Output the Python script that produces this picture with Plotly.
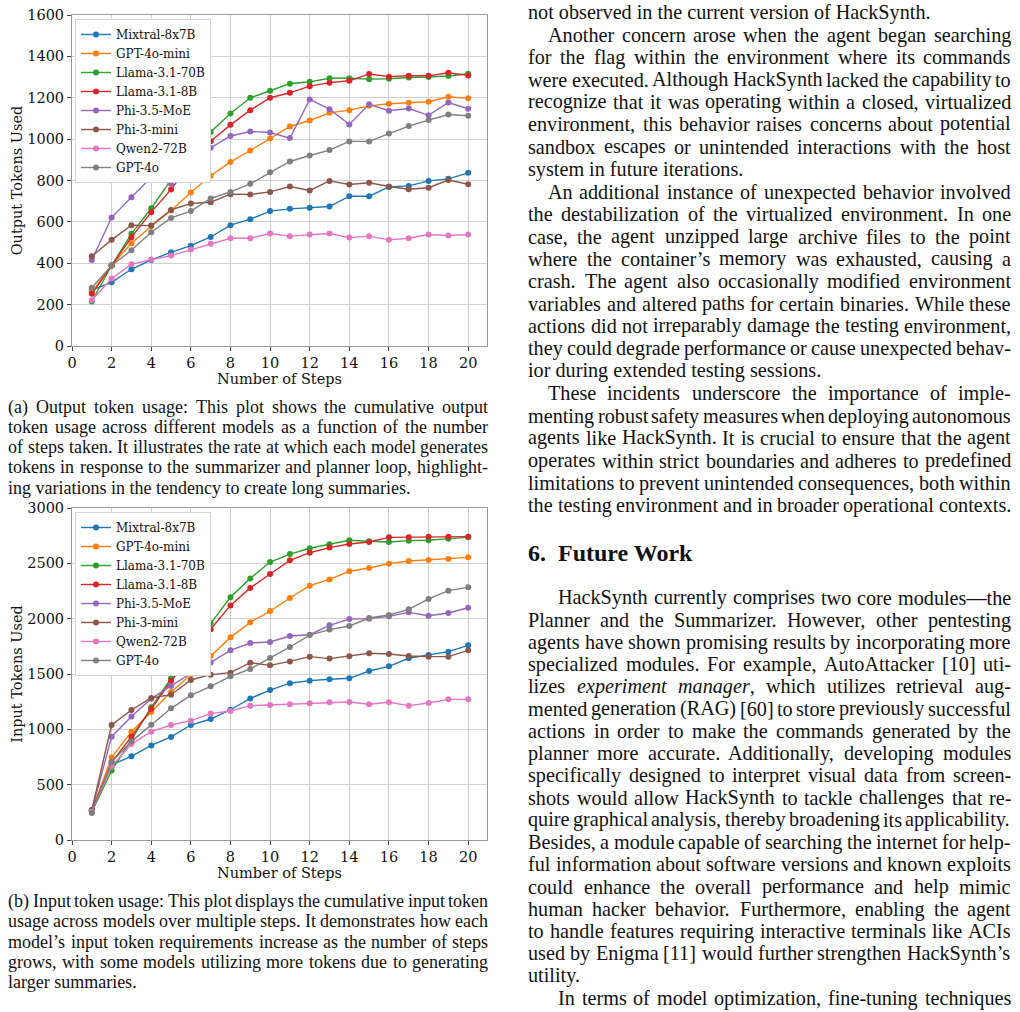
import plotly.graph_objects as go

FW, FH = 1020, 1012

steps = list(range(1, 21))
models = ["Mixtral-8x7B", "GPT-4o-mini", "Llama-3.1-70B", "Llama-3.1-8B",
          "Phi-3.5-MoE", "Phi-3-mini", "Qwen2-72B", "GPT-4o"]
colors = ["#1f77b4", "#ff7f0e", "#2ca02c", "#d62728",
          "#9467bd", "#8c564b", "#e377c2", "#7f7f7f"]

# (a) Output tokens
out_mixtral = [270, 308, 371, 416, 453, 485, 527, 584, 613, 652, 663, 668, 674, 724, 724, 769, 774, 798, 808, 837]
out_gpt4o_mini = [260, 389, 497, 579, 655, 742, 823, 890, 945, 1003, 1061, 1090, 1127, 1140, 1161, 1171, 1176, 1181, 1205, 1197]
out_llama70 = [215, 389, 542, 666, 803, 917, 1035, 1124, 1200, 1234, 1268, 1277, 1294, 1294, 1290, 1292, 1298, 1300, 1305, 1316]
out_llama8 = [252, 389, 526, 647, 757, 881, 990, 1069, 1140, 1200, 1224, 1256, 1273, 1282, 1315, 1302, 1306, 1306, 1321, 1308]
out_phi35 = [416, 621, 719, 816, 784, 934, 958, 1015, 1037, 1032, 1005, 1192, 1145, 1071, 1168, 1137, 1148, 1115, 1177, 1147]
out_phi3 = [434, 513, 584, 582, 658, 689, 695, 734, 732, 745, 771, 752, 798, 781, 789, 771, 758, 765, 802, 782]
out_qwen = [221, 326, 395, 418, 437, 466, 494, 521, 521, 544, 531, 539, 544, 524, 531, 513, 521, 539, 534, 539]
out_gpt4o = [282, 389, 463, 550, 619, 652, 713, 745, 784, 840, 892, 921, 947, 989, 989, 1027, 1063, 1092, 1119, 1113]

# (b) Input tokens
in_mixtral = [270, 680, 756, 855, 931, 1039, 1093, 1177, 1279, 1355, 1417, 1440, 1452, 1461, 1527, 1569, 1642, 1672, 1702, 1759]
in_gpt4o_mini = [265, 747, 979, 1157, 1337, 1494, 1666, 1831, 1967, 2069, 2187, 2298, 2355, 2428, 2458, 2497, 2521, 2530, 2539, 2554]
in_llama70 = [255, 627, 905, 1199, 1461, 1741, 1958, 2193, 2364, 2512, 2584, 2636, 2672, 2708, 2699, 2693, 2705, 2708, 2723, 2735]
in_llama8 = [265, 700, 934, 1187, 1437, 1663, 1904, 2120, 2278, 2404, 2527, 2596, 2642, 2675, 2693, 2735, 2735, 2741, 2741, 2741]
in_phi35 = [265, 934, 1117, 1277, 1392, 1506, 1605, 1714, 1780, 1789, 1843, 1855, 1940, 1997, 2000, 2021, 2057, 2027, 2051, 2099]
in_phi3 = [272, 1039, 1175, 1283, 1313, 1446, 1494, 1512, 1602, 1578, 1614, 1657, 1639, 1660, 1687, 1681, 1663, 1657, 1657, 1714]
in_qwen = [255, 666, 867, 979, 1039, 1078, 1142, 1166, 1214, 1220, 1226, 1235, 1244, 1247, 1226, 1244, 1214, 1238, 1271, 1271]
in_gpt4o = [245, 708, 889, 1042, 1190, 1307, 1389, 1479, 1545, 1645, 1744, 1852, 1901, 1934, 2006, 2033, 2084, 2178, 2253, 2283]

out_series = [out_mixtral, out_gpt4o_mini, out_llama70, out_llama8, out_phi35, out_phi3, out_qwen, out_gpt4o]
in_series = [in_mixtral, in_gpt4o_mini, in_llama70, in_llama8, in_phi35, in_phi3, in_qwen, in_gpt4o]

x_ticks = list(range(0, 21, 2))
out_y_ticks = list(range(0, 1601, 200))
in_y_ticks = list(range(0, 3001, 500))

CHART_FONT = "DejaVu Serif"
TEXT_FONT = "Liberation Serif"

fig = go.Figure()
for name, col, ys in zip(models, colors, out_series):
    fig.add_trace(go.Scatter(x=steps, y=ys, name=name, mode="lines+markers",
                             line=dict(color=col, width=1.4),
                             marker=dict(color=col, size=6),
                             xaxis="x", yaxis="y", legend="legend"))
for name, col, ys in zip(models, colors, in_series):
    fig.add_trace(go.Scatter(x=steps, y=ys, name=name, mode="lines+markers",
                             line=dict(color=col, width=1.4),
                             marker=dict(color=col, size=6),
                             xaxis="x2", yaxis="y2", legend="legend2"))


def px_x(v):
    return v / FW


def px_y(v):
    return 1 - v / FH


axis_common = dict(showline=True, mirror=True, linecolor="#9a9a9a", linewidth=1,
                   showgrid=True, gridcolor="#d0d0d0", gridwidth=1,
                   ticks="outside", ticklen=4, tickcolor="#444", tickwidth=1,
                   tickfont=dict(family=CHART_FONT, size=14.5, color="#111"),
                   zeroline=False, automargin=False)

xdom = [px_x(72), px_x(487)]
fig.update_layout(
    width=FW, height=FH, margin=dict(l=0, r=0, t=0, b=0),
    paper_bgcolor="white", plot_bgcolor="white", showlegend=True,
    xaxis=dict(domain=xdom, range=[0, 20.95], tickvals=x_ticks, anchor="y",
               title=dict(text="Number of Steps", standoff=0,
                          font=dict(family=CHART_FONT, size=14.5, color="#111")),
               **axis_common),
    yaxis=dict(domain=[px_y(346), px_y(15)], range=[0, 1600], tickvals=out_y_ticks, anchor="x",
               title=dict(text="Output Tokens Used", standoff=1,
                          font=dict(family=CHART_FONT, size=14.5, color="#111")),
               **axis_common),
    xaxis2=dict(domain=xdom, range=[0, 20.95], tickvals=x_ticks, anchor="y2",
                title=dict(text="Number of Steps", standoff=0,
                           font=dict(family=CHART_FONT, size=14.5, color="#111")),
                **axis_common),
    yaxis2=dict(domain=[px_y(840), px_y(508)], range=[0, 3000], tickvals=in_y_ticks, anchor="x2",
                title=dict(text="Input Tokens Used", standoff=1,
                           font=dict(family=CHART_FONT, size=14.5, color="#111")),
                **axis_common),
    legend=dict(x=px_x(75), y=px_y(19), xanchor="left", yanchor="top",
                bgcolor="white", bordercolor="#d6d6d6", borderwidth=1,
                font=dict(family=CHART_FONT, size=12, color="#111")),
    legend2=dict(x=px_x(75), y=px_y(512), xanchor="left", yanchor="top",
                 bgcolor="white", bordercolor="#d6d6d6", borderwidth=1,
                 font=dict(family=CHART_FONT, size=12, color="#111")),
)

# ---------------- text layout (Times metrics, Liberation Serif) ----------------
W_REG = {' ': 250, '!': 333, '"': 408, '#': 500, '$': 500, '%': 833, '&': 778, "'": 180,
         '(': 333, ')': 333, '*': 500, '+': 564, ',': 250, '-': 333, '.': 250, '/': 278,
         ':': 278, ';': 278, '?': 444, '[': 333, ']': 333, '\u2014': 1000, '\u2019': 333,
         'A': 722, 'B': 667, 'C': 667, 'D': 722, 'E': 611, 'F': 556, 'G': 722, 'H': 722,
         'I': 333, 'J': 389, 'K': 722, 'L': 611, 'M': 889, 'N': 722, 'O': 722, 'P': 556,
         'Q': 722, 'R': 667, 'S': 556, 'T': 611, 'U': 722, 'V': 722, 'W': 944, 'X': 722,
         'Y': 722, 'Z': 611,
         'a': 444, 'b': 500, 'c': 444, 'd': 500, 'e': 444, 'f': 333, 'g': 500, 'h': 500,
         'i': 278, 'j': 278, 'k': 500, 'l': 278, 'm': 778, 'n': 500, 'o': 500, 'p': 500,
         'q': 500, 'r': 333, 's': 389, 't': 278, 'u': 500, 'v': 500, 'w': 722, 'x': 500,
         'y': 500, 'z': 444}
for d in "0123456789":
    W_REG[d] = 500
W_IT = {'a': 500, 'b': 500, 'c': 444, 'd': 500, 'e': 444, 'f': 278, 'g': 500, 'h': 500,
        'i': 278, 'j': 278, 'k': 444, 'l': 278, 'm': 722, 'n': 500, 'o': 500, 'p': 500,
        'q': 500, 'r': 389, 's': 389, 't': 278, 'u': 500, 'v': 444, 'w': 667, 'x': 444,
        'y': 444, 'z': 389}


def word_width(word, size):
    total, italic, i = 0, False, 0
    while i < len(word):
        if word.startswith('<i>', i):
            italic = True
            i += 3
            continue
        if word.startswith('</i>', i):
            italic = False
            i += 4
            continue
        ch = word[i]
        tbl = W_IT if italic else W_REG
        total += tbl.get(ch, W_REG.get(ch, 500))
        i += 1
    return total / 1000.0 * size


annotations = []


def add_text(text, x, y, size, bold=False):
    annotations.append(dict(text=("<b>%s</b>" % text) if bold else text,
                            x=px_x(x), y=px_y(y), xref="paper", yref="paper",
                            xanchor="left", yanchor="middle", showarrow=False,
                            borderpad=0, borderwidth=0,
                            font=dict(family=TEXT_FONT, size=size, color="#111")))


def add_line(text, y, left, right, size, indent=0, justify=True):
    x0 = left + indent
    if not justify:
        add_text(text, x0, y, size)
        return
    words = text.split(' ')
    widths = [word_width(w, size) for w in words]
    gap = (right - x0 - sum(widths)) / max(len(words) - 1, 1)
    x = x0
    for w, wd in zip(words, widths):
        add_text(w, x, y, size)
        x += wd + gap


CAP_SIZE = 18
BODY_SIZE = 20.2
CL, CR = 8, 488.3
BL, BR = 528.3, 1011

cap_a = [
    ("(a) Output token usage: This plot shows the cumulative output", 407, True),
    ("token usage across different models as a function of the number", 427, True),
    ("of steps taken. It illustrates the rate at which each model generates", 447, True),
    ("tokens in response to the summarizer and planner loop, highlight-", 467, True),
    ("ing variations in the tendency to create long summaries.", 487.5, False),
]
cap_b = [
    ("(b) Input token usage: This plot displays the cumulative input token", 901, True),
    ("usage across models over multiple steps. It demonstrates how each", 921, True),
    ("model\u2019s input token requirements increase as the number of steps", 941.5, True),
    ("grows, with some models utilizing more tokens due to generating", 962, True),
    ("larger summaries.", 982, False),
]
for t, y, j in cap_a + cap_b:
    add_line(t, y, CL, CR, CAP_SIZE, 0, j)

body = [
    ("not observed in the current version of HackSynth.", 12, 0, False),
    ("Another concern arose when the agent began searching", 35, 19.5, True),
    ("for the flag within the environment where its commands", 57, 0, True),
    ("were executed. Although HackSynth lacked the capability to", 79.5, 0, True),
    ("recognize that it was operating within a closed, virtualized", 101.5, 0, True),
    ("environment, this behavior raises concerns about potential", 124, 0, True),
    ("sandbox escapes or unintended interactions with the host", 146.5, 0, True),
    ("system in future iterations.", 169, 0, False),
    ("An additional instance of unexpected behavior involved", 192, 19.5, True),
    ("the destabilization of the virtualized environment. In one", 214.5, 0, True),
    ("case, the agent unzipped large archive files to the point", 237, 0, True),
    ("where the container\u2019s memory was exhausted, causing a", 259, 0, True),
    ("crash. The agent also occasionally modified environment", 281, 0, True),
    ("variables and altered paths for certain binaries. While these", 303.5, 0, True),
    ("actions did not irreparably damage the testing environment,", 325.5, 0, True),
    ("they could degrade performance or cause unexpected behav-", 348, 0, True),
    ("ior during extended testing sessions.", 370.5, 0, False),
    ("These incidents underscore the importance of imple-", 393.5, 19.5, True),
    ("menting robust safety measures when deploying autonomous", 416, 0, True),
    ("agents like HackSynth. It is crucial to ensure that the agent", 438, 0, True),
    ("operates within strict boundaries and adheres to predefined", 460.5, 0, True),
    ("limitations to prevent unintended consequences, both within", 483, 0, True),
    ("the testing environment and in broader operational contexts.", 505, 0, True),
    ("HackSynth currently comprises two core modules\u2014the", 597.5, 30, True),
    ("Planner and the Summarizer. However, other pentesting", 620, 0, True),
    ("agents have shown promising results by incorporating more", 642, 0, True),
    ("specialized modules. For example, AutoAttacker [10] uti-", 664, 0, True),
    ("lizes <i>experiment</i> <i>manager</i>, which utilizes retrieval aug-", 686, 0, True),
    ("mented generation (RAG) [60] to store previously successful", 708.5, 0, True),
    ("actions in order to make the commands generated by the", 731, 0, True),
    ("planner more accurate. Additionally, developing modules", 753, 0, True),
    ("specifically designed to interpret visual data from screen-", 775, 0, True),
    ("shots would allow HackSynth to tackle challenges that re-", 797.5, 0, True),
    ("quire graphical analysis, thereby broadening its applicability.", 819.5, 0, True),
    ("Besides, a module capable of searching the internet for help-", 842, 0, True),
    ("ful information about software versions and known exploits", 864, 0, True),
    ("could enhance the overall performance and help mimic", 886.5, 0, True),
    ("human hacker behavior. Furthermore, enabling the agent", 909, 0, True),
    ("to handle features requiring interactive terminals like ACIs", 931, 0, True),
    ("used by Enigma [11] would further strengthen HackSynth\u2019s", 953, 0, True),
    ("utility.", 975.5, 0, False),
    ("In terms of model optimization, fine-tuning techniques", 998, 30, True),
]
for t, y, ind, j in body:
    add_line(t, y, BL, BR, BODY_SIZE, ind, j)

add_text("6.", BL, 553, 24, bold=True)
add_text("Future Work", 558.3, 553, 24, bold=True)

fig.update_layout(annotations=annotations)
fig.write_html("out.html", config={"displayModeBar": False},
               post_script="document.body.style.margin='0px';")
